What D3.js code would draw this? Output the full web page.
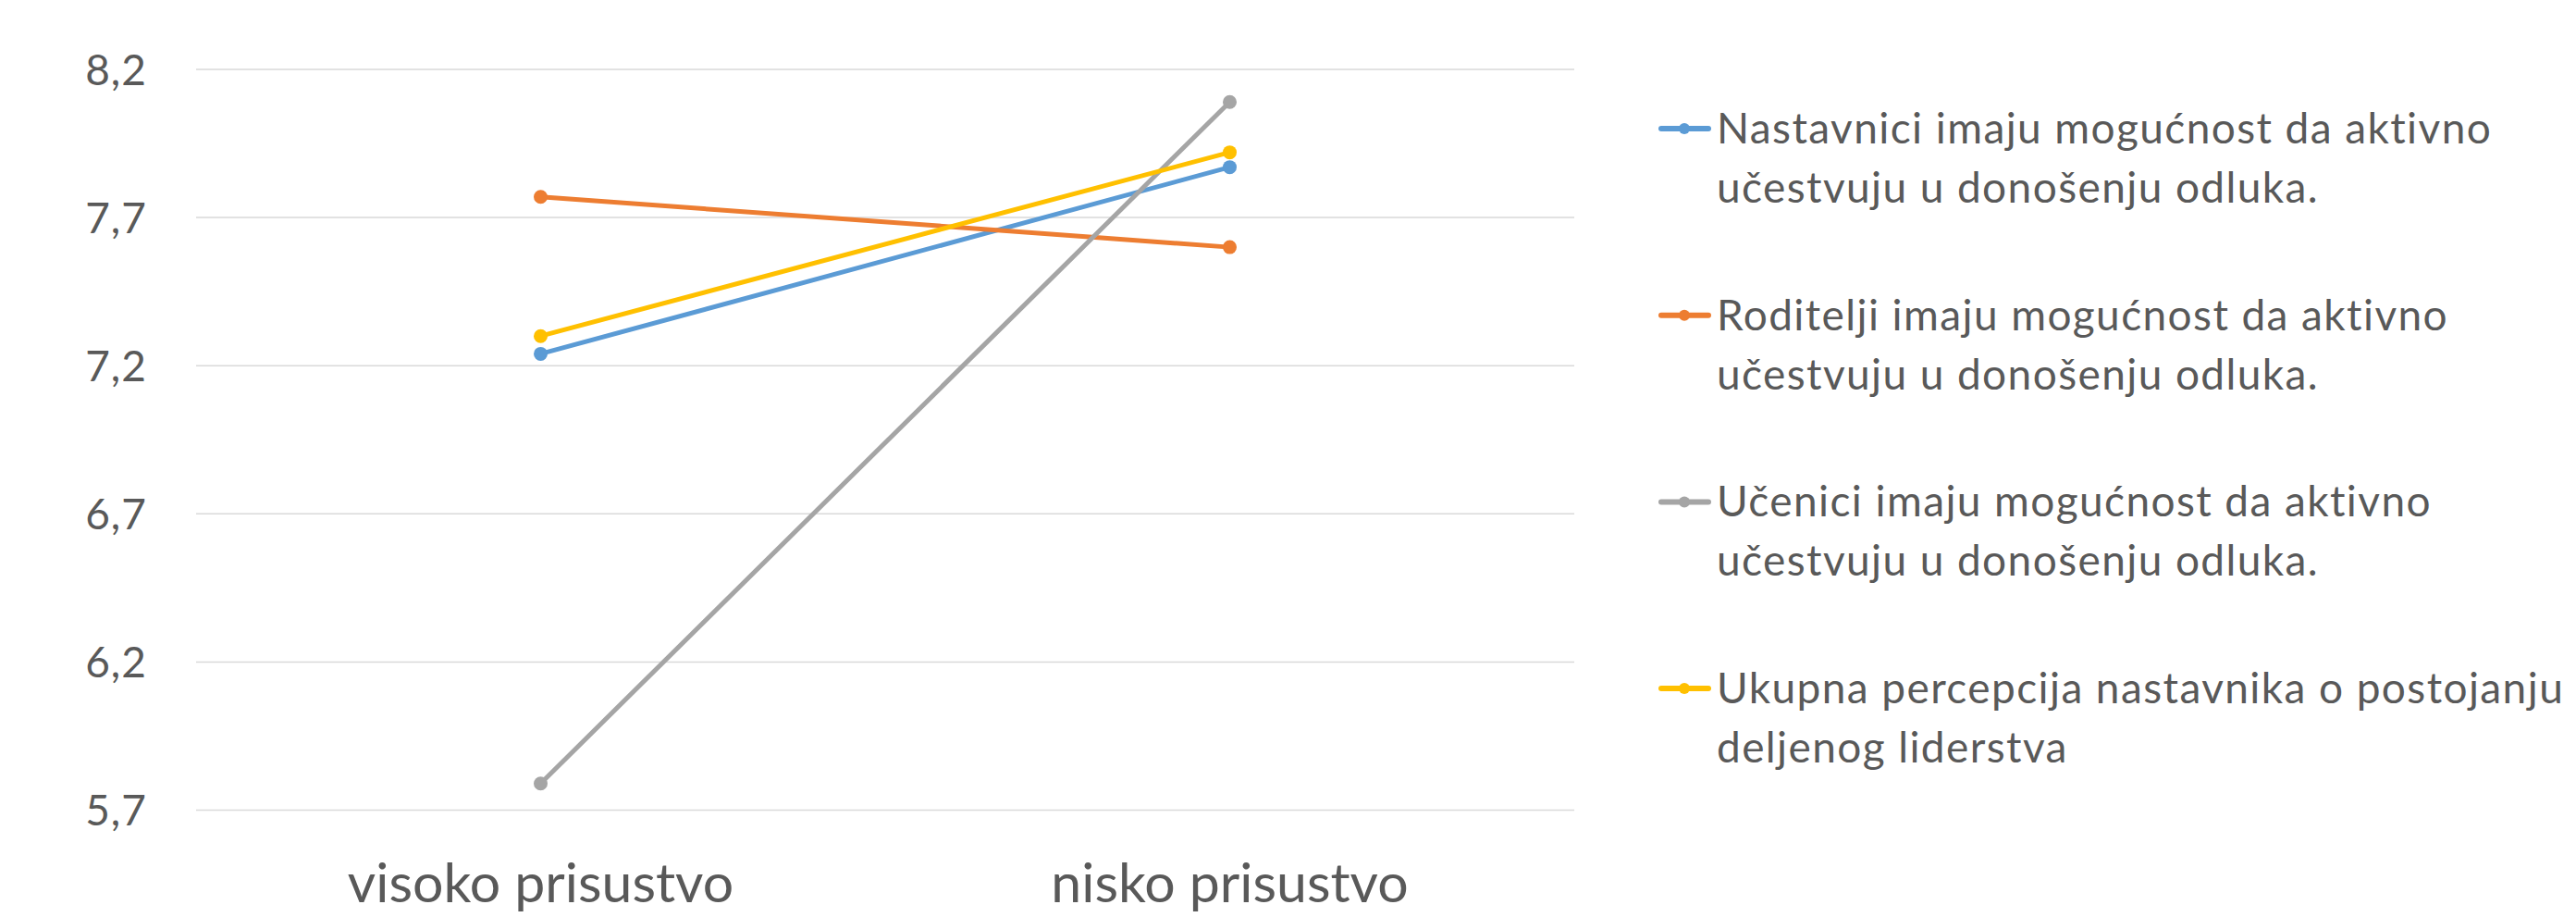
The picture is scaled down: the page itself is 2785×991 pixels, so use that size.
<!DOCTYPE html>
<html>
<head>
<meta charset="utf-8">
<script src="https://cdn.jsdelivr.net/npm/d3@7"></script>
<style>
  body { margin: 0; background: #fff; }
  svg { display: block; font-family: Lato, "Open Sans", sans-serif; font-variant-ligatures: none; }
</style>
</head>
<body>
<svg id="chart" width="2785" height="991"></svg>
<script>
// categories on the x axis
const categories = ["visoko prisustvo", "nisko prisustvo"];

// series values (one per category)
const nastavnici = [7.24, 7.87];
const roditelji = [7.77, 7.60];
const ucenici = [5.79, 8.09];
const ukupna = [7.30, 7.92];

// y ticks
const yTicks = [5.7, 6.2, 6.7, 7.2, 7.7, 8.2];

// legend labels, already broken into lines
const legendLabels = [
    ["Nastavnici imaju mogućnost da aktivno", "učestvuju u donošenju odluka."],
    ["Roditelji imaju mogućnost da aktivno", "učestvuju u donošenju odluka."],
    ["Učenici imaju mogućnost da aktivno", "učestvuju u donošenju odluka."],
    ["Ukupna percepcija nastavnika o postojanju", "deljenog liderstva"]
];

const colors = ["#5B9BD5", "#ED7D31", "#A5A5A5", "#FFC000"];
const seriesValues = [nastavnici, roditelji, ucenici, ukupna];

const svg = d3.select("#chart");
const textColor = "#595959";

const x = d3.scalePoint()
    .domain(categories)
    .range([212, 1702])
    .padding(0.5);

const y = d3.scaleLinear()
    .domain([5.7, 8.2])
    .range([875.5, 75]);

const fmt = (d) => d3.format(".1f")(d).replace(".", ",");

// gridlines
svg.append("g")
    .selectAll("line")
    .data(yTicks)
    .enter()
    .append("line")
    .attr("x1", 212)
    .attr("x2", 1702)
    .attr("y1", (d) => y(d))
    .attr("y2", (d) => y(d))
    .attr("stroke", "#d9d9d9")
    .attr("stroke-width", 1.5);

// y tick labels
svg.append("g")
    .selectAll("text")
    .data(yTicks)
    .enter()
    .append("text")
    .attr("x", 159)
    .attr("y", (d) => y(d))
    .attr("dy", "0.36em")
    .attr("text-anchor", "end")
    .attr("fill", textColor)
    .style("font-size", "46px")
    .style("letter-spacing", "1px")
    .text(fmt);

// x labels
svg.append("g")
    .selectAll("text")
    .data(categories)
    .enter()
    .append("text")
    .attr("x", (d) => x(d))
    .attr("y", 975)
    .attr("text-anchor", "middle")
    .attr("fill", textColor)
    .style("font-size", "59px")
    .text((d) => d);

// lines and markers
const line = d3.line()
    .x((d, i) => x(categories[i]))
    .y((d) => y(d));

const series = svg.append("g")
    .selectAll("g")
    .data(seriesValues)
    .enter()
    .append("g");

series.append("path")
    .attr("d", (d) => line(d))
    .attr("fill", "none")
    .attr("stroke", (d, i) => colors[i])
    .attr("stroke-width", 5)
    .attr("stroke-linecap", "round");

series.selectAll("circle")
    .data((d, i) => d.map((v, j) => ({ v: v, j: j, c: colors[i] })))
    .enter()
    .append("circle")
    .attr("cx", (d) => x(categories[d.j]))
    .attr("cy", (d) => y(d.v))
    .attr("r", 7.5)
    .attr("fill", (d) => d.c);

// legend
const legend = svg.append("g")
    .selectAll("g")
    .data(legendLabels)
    .enter()
    .append("g")
    .attr("transform", (d, i) => "translate(0, " + (155 + i * 201.7) + ")");

legend.append("line")
    .attr("x1", 1796)
    .attr("x2", 1847)
    .attr("y1", -16)
    .attr("y2", -16)
    .attr("stroke", (d, i) => colors[i])
    .attr("stroke-width", 6)
    .attr("stroke-linecap", "round");

legend.append("circle")
    .attr("cx", 1821)
    .attr("cy", -16)
    .attr("r", 6)
    .attr("fill", (d, i) => colors[i]);

legend.append("text")
    .attr("fill", textColor)
    .style("font-size", "46px")
    .style("letter-spacing", "1.4px")
    .selectAll("tspan")
    .data((d) => d)
    .enter()
    .append("tspan")
    .attr("x", 1856)
    .attr("y", (d, i) => i * 64)
    .text((d) => d);
</script>
</body>
</html>
